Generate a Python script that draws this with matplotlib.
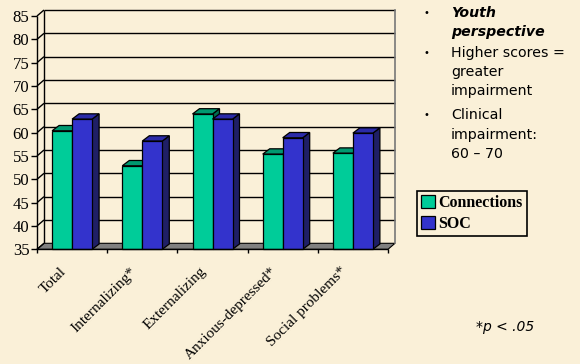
import matplotlib
matplotlib.use("Agg")
import matplotlib.pyplot as plt
from matplotlib.patches import Polygon, Rectangle

categories = ["Total", "Internalizing*", "Externalizing", "Anxious-depressed*", "Social problems*"]
connections = [60.4, 52.9, 64.0, 55.4, 55.6]
soc = [62.9, 58.2, 62.9, 58.9, 59.9]
series_names = ["Connections", "SOC"]
y_ticks = [35, 40, 45, 50, 55, 60, 65, 70, 75, 80, 85]

BG = "#FAF0D8"
FRONT = ["#00CC99", "#3333CC"]
TOP = ["#009970", "#2B2BA8"]
SIDE = ["#006B4F", "#1F1F66"]
FLOOR = "#808080"
SERIF = "Liberation Serif"

W, H = 580, 364
fig = plt.figure(figsize=(W / 100, H / 100), dpi=100, facecolor=BG)

# front plane of the 3-D plot area, in pixels
x0, x1 = 37, 388
ytop, ybot = 16, 249.3
ax = fig.add_axes([x0 / W, 1 - ybot / H, (x1 - x0) / W, (ybot - ytop) / H])
ax.set_xlim(0, len(categories))
ax.set_ylim(y_ticks[0], y_ticks[-1])
ax.set_facecolor("none")
for s in ax.spines.values():
    s.set_visible(False)

px_x = (x1 - x0) / len(categories)      # pixels per category
px_y = (ybot - ytop) / (y_ticks[-1] - y_ticks[0])   # pixels per unit
wdx, wdy = 7 / px_x, 6 / px_y           # depth of the wall
bdx, bdy = 7 / px_x, 5.3 / px_y         # depth of a column
ymin, ymax = y_ticks[0], y_ticks[-1]
nx = len(categories)
lk = dict(color="black", lw=1.0, clip_on=False, solid_capstyle="butt")

# floor
ax.add_patch(Polygon([(0, ymin), (nx, ymin), (nx + wdx, ymin + wdy), (wdx, ymin + wdy)],
                     closed=True, facecolor=FLOOR, edgecolor="black", lw=0.8, clip_on=False, zorder=1))
# back wall gridlines and edges
for v in y_ticks[1:]:
    ax.plot([wdx, nx + wdx], [v + wdy, v + wdy], zorder=1, **lk)
ax.plot([wdx, wdx], [ymin + wdy, ymax + wdy], zorder=1, **lk)
ax.plot([nx + wdx, nx + wdx], [ymin + wdy, ymax + wdy], color="#777777", lw=1.2, clip_on=False, zorder=1)
# side wall: diagonals at each tick and the front axis
for v in y_ticks:
    ax.plot([0, wdx], [v, v + wdy], zorder=1, **lk)
ax.plot([0, 0], [ymin, ymax], zorder=5, **lk)
ax.plot([0, nx], [ymin, ymin], zorder=5, **lk)
# category ticks along the front
for i in range(nx + 1):
    ax.plot([i, i], [ymin, ymin - 4 / px_y], zorder=5, **lk)

# columns
bw = 20 / px_x
for i in range(nx):
    c = i + 0.5
    for k, vals in enumerate([connections, soc]):
        left = c - bw + k * bw
        right = left + bw
        v = vals[i]
        z = 3 + k * 0.1 + i * 0.01
        ax.add_patch(Polygon([(right, ymin), (right + bdx, ymin + bdy), (right + bdx, v + bdy), (right, v)],
                             closed=True, facecolor=SIDE[k], edgecolor="black", lw=0.9, clip_on=False, zorder=z))
        ax.add_patch(Polygon([(left, v), (right, v), (right + bdx, v + bdy), (left + bdx, v + bdy)],
                             closed=True, facecolor=TOP[k], edgecolor="black", lw=0.9, clip_on=False, zorder=z))
        ax.add_patch(Rectangle((left, ymin), bw, v - ymin, facecolor=FRONT[k],
                               edgecolor="black", lw=0.9, clip_on=False, zorder=z + 0.05))

# value axis
ax.set_yticks(y_ticks)
ax.set_yticklabels([str(t) for t in y_ticks], fontfamily=SERIF, fontsize=12)
ax.tick_params(axis="y", length=4, width=1, pad=1.5, color="black")
ax.set_xticks([])

# category labels
for i, lab in enumerate(categories):
    ax.text(i + 0.5 - 8 / px_x, ymin - 20 / px_y, lab, rotation=45, rotation_mode="anchor",
            ha="right", va="center", fontfamily=SERIF, fontsize=11, clip_on=False)

# legend
handles = [Rectangle((0, 0), 1, 1, facecolor=FRONT[k], edgecolor="black", lw=0.9) for k in range(2)]
leg = fig.legend(handles, series_names, loc="upper left", bbox_to_anchor=(417 / W, 1 - 191 / H),
                 frameon=True, fancybox=False, edgecolor="black", facecolor=BG, framealpha=1,
                 prop=dict(family=SERIF, weight="bold", size=11.5),
                 handlelength=0.85, handleheight=0.85, handletextpad=0.25, borderpad=0.25,
                 labelspacing=0.3, borderaxespad=0)
leg.get_frame().set_linewidth(1.2)

# notes
SANS = "DejaVu Sans"
notes = [
    (13, "Youth", dict(weight="bold", style="italic"), True),
    (32, "perspective", dict(weight="bold", style="italic"), False),
    (53, "Higher scores =", {}, True),
    (72, "greater", {}, False),
    (91, "impairment", {}, False),
    (115, "Clinical", {}, True),
    (135, "impairment:", {}, False),
    (154, "60 \u2013 70", {}, False),
]
for y, txt, kw, bullet in notes:
    fig.text(451 / W, 1 - y / H, txt, ha="left", va="center", fontfamily=SANS, fontsize=10.2, **kw)
    if bullet:
        fig.text(426 / W, 1 - y / H, "\u2022", ha="center", va="center", fontfamily=SANS, fontsize=7)

fig.text(476 / W, 1 - 327 / H, "*p < .05", ha="left", va="center", fontfamily=SANS,
         fontsize=10, style="italic")

fig.savefig("out.png", dpi=100, facecolor=BG)
